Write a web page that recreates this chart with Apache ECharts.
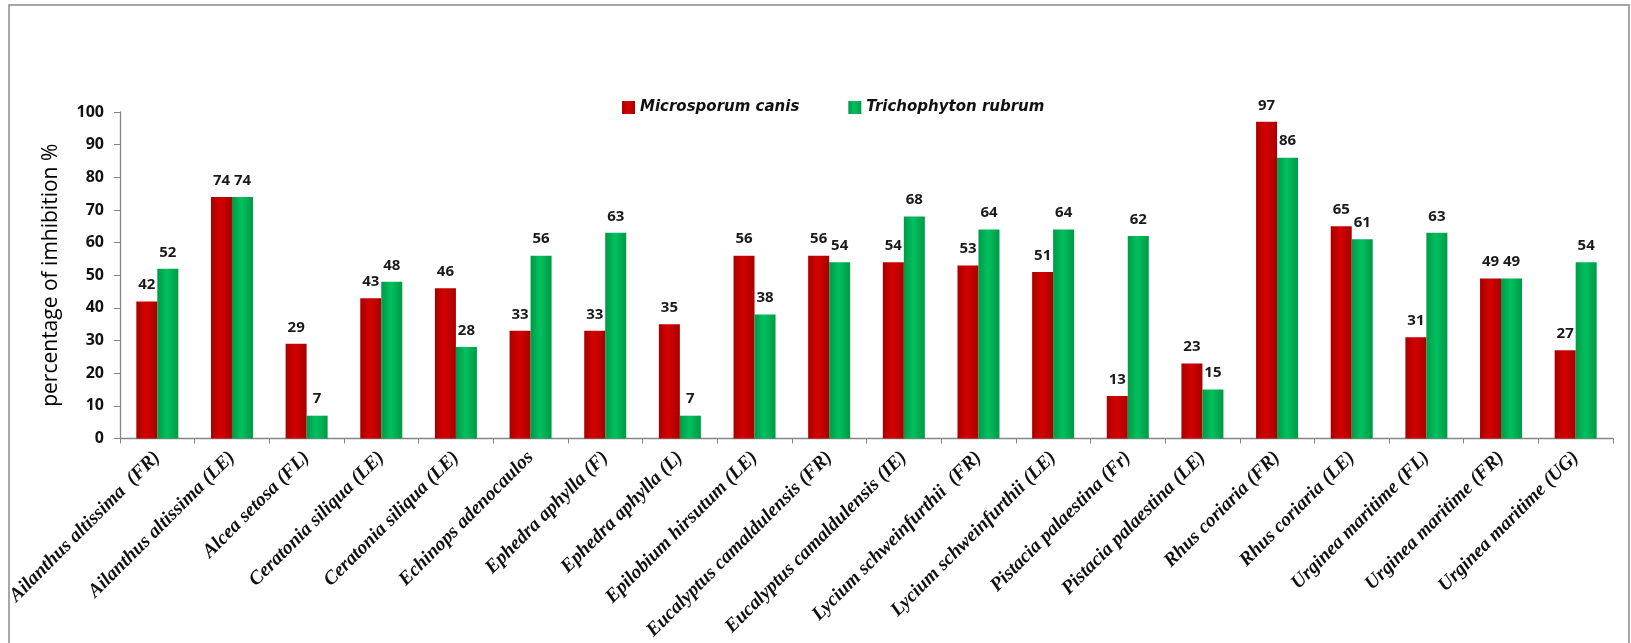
<!DOCTYPE html>
<html>
<head>
<meta charset="utf-8">
<script src="https://cdn.jsdelivr.net/npm/echarts@6/dist/echarts.min.js"></script>
<style>
html,body{margin:0;padding:0;background:#fff;}
#chart{width:1631px;height:643px;}
</style>
</head>
<body>
<div id="chart"></div>
<script>
const categories = [
  'Ailanthus altissima  (FR)', 'Ailanthus altissima (LE)', 'Alcea setosa (FL)',
  'Ceratonia siliqua (LE)', 'Ceratonia siliqua (LE)', 'Echinops adenocaulos',
  'Ephedra aphylla (F)', 'Ephedra aphylla (L)', 'Epilobium hirsutum (LE)',
  'Eucalyptus camaldulensis (FR)', 'Eucalyptus camaldulensis (IE)', 'Lycium schweinfurthii  (FR)',
  'Lycium schweinfurthii (LE)', 'Pistacia palaestina (Fr)', 'Pistacia palaestina (LE)',
  'Rhus coriaria (FR)', 'Rhus coriaria (LE)', 'Urginea maritime (FL)',
  'Urginea maritime (FR)', 'Urginea maritime (UG)'
];
const microsporumCanis = [42, 74, 29, 43, 46, 33, 33, 35, 56, 56, 54, 53, 51, 13, 23, 97, 65, 31, 49, 27];
const trichophytonRubrum = [52, 74, 7, 48, 28, 56, 63, 7, 38, 54, 68, 64, 64, 62, 15, 86, 61, 63, 49, 54];
const seriesNames = ['Microsporum canis', 'Trichophyton rubrum'];
const yTicks = [0, 10, 20, 30, 40, 50, 60, 70, 80, 90, 100];

function grad(dark, mid) {
  return new echarts.graphic.LinearGradient(0, 0, 1, 0, [
    {offset: 0, color: dark}, {offset: 0.45, color: mid}, {offset: 1, color: dark}
  ]);
}

const chart = echarts.init(document.getElementById('chart'));
const labelCfg = {
  show: true, position: 'top', distance: 9,
  fontFamily: 'Open Sans', fontWeight: 'bold', fontSize: 15, color: '#1a1a1a'
};
chart.setOption({
  animation: false,
  graphic: [{
    type: 'rect', shape: {x: 9, y: 5, width: 1620, height: 700},
    style: {fill: 'none', stroke: '#8a8a8a', lineWidth: 1.5}, silent: true
  }],
  legend: {
    left: 617, top: 95,
    itemWidth: 13, itemHeight: 13, itemGap: 49,
    textStyle: {fontFamily: 'DejaVu Sans', fontWeight: 'bold', fontStyle: 'italic', fontSize: 15, color: '#111'},
    data: seriesNames.map(n => ({name: n, icon: 'rect'}))
  },
  grid: {left: 120, right: 18, top: 112, bottom: 204, containLabel: false},
  xAxis: {
    type: 'category', data: categories,
    axisLine: {lineStyle: {color: '#868686', width: 1.3}},
    axisTick: {show: true, length: 5, alignWithLabel: false, lineStyle: {color: '#868686'}},
    axisLabel: {
      interval: 0, rotate: 45, margin: 16,
      fontFamily: 'Liberation Serif', fontWeight: 'bold', fontStyle: 'italic', fontSize: 19.5, color: '#111'
    }
  },
  yAxis: {
    type: 'value', min: yTicks[0], max: yTicks[yTicks.length - 1], interval: 10,
    name: 'percentage of imhibition %', nameLocation: 'middle', nameGap: 58, nameRotate: 90,
    nameTextStyle: {fontFamily: 'Open Sans', fontSize: 21, color: '#000'},
    axisLine: {show: true, lineStyle: {color: '#868686', width: 1.3}},
    axisTick: {show: true, inside: false, length: 6, lineStyle: {color: '#868686'}},
    splitLine: {show: false},
    axisLabel: {margin: 16, fontFamily: 'Open Sans', fontWeight: 'bold', fontSize: 16, color: '#111'}
  },
  series: [
    {
      name: seriesNames[0], type: 'bar', data: microsporumCanis,
      barWidth: 21, barGap: '0%',
      itemStyle: {color: grad('#a80000', '#d40000')},
      label: labelCfg
    },
    {
      name: seriesNames[1], type: 'bar', data: trichophytonRubrum,
      barWidth: 21, barGap: '0%',
      itemStyle: {color: grad('#009a44', '#00c060')},
      label: labelCfg
    }
  ]
});
</script>
</body>
</html>
